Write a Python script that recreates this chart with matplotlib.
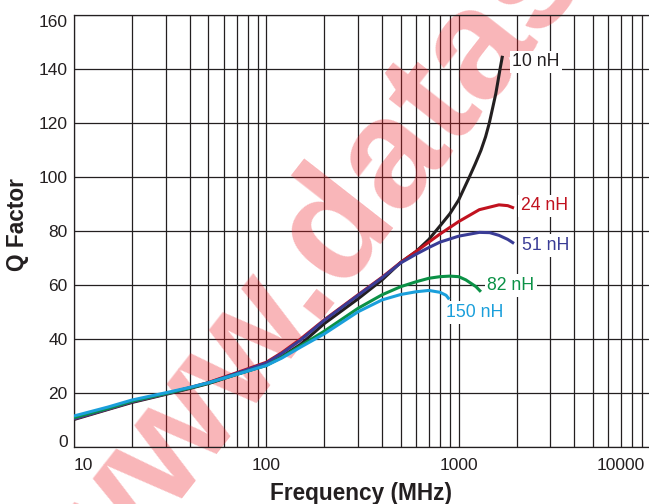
import numpy as np
import matplotlib
matplotlib.use("Agg")
import matplotlib.pyplot as plt
from matplotlib.ticker import LogLocator, NullFormatter, FixedLocator

plt.rcParams['font.family'] = ['Liberation Sans', 'DejaVu Sans']

# ---- data (frequency in MHz, Q factor) ----
f_10nh = [10, 15, 20, 30, 40, 50, 70, 100, 120, 150, 200, 300, 400, 500, 600, 700, 800, 900,
          1000, 1135, 1220, 1306, 1380, 1442, 1500, 1560, 1600, 1640, 1690]
q_10nh = [10.3, 14.0, 16.6, 19.6, 21.8, 23.6, 27.0, 30.5, 33.5, 38.0, 45.8, 55.0, 62.0, 68.5, 72.5, 77.0, 82.0, 86.5,
          91.6, 100.0, 105.0, 110.0, 115.0, 120.0, 125.5, 131.0, 135.5, 140.0, 145.0]

f_24nh = [10, 15, 20, 30, 40, 50, 70, 100, 120, 150, 200, 300, 400, 500, 600, 700, 800, 1000, 1280, 1620, 1800, 1940]
q_24nh = [10.6, 14.2, 16.9, 19.8, 22.1, 24.0, 27.6, 31.5, 35.0, 40.0, 47.2, 56.5, 63.0, 68.5, 72.5, 76.0, 79.0, 83.6,
          88.0, 89.8, 89.5, 88.6]

f_51nh = [10, 15, 20, 30, 40, 50, 70, 100, 120, 150, 200, 300, 400, 500, 600, 700, 800, 1000, 1280, 1450, 1620, 1800, 1940]
q_51nh = [10.6, 14.2, 16.9, 19.8, 22.0, 23.9, 27.4, 31.2, 34.7, 39.6, 47.0, 56.3, 62.8, 68.3, 71.5, 74.0, 76.0, 78.2,
          79.6, 79.5, 78.5, 77.0, 75.5]

f_82nh = [10, 15, 20, 30, 40, 50, 70, 100, 120, 150, 200, 300, 400, 500, 600, 700, 800, 900, 1000, 1090, 1230, 1305]
q_82nh = [11.0, 14.4, 17.1, 19.9, 22.0, 23.8, 27.0, 30.3, 33.3, 37.5, 43.0, 51.5, 56.5, 59.5, 61.3, 62.6, 63.2, 63.4,
          63.2, 62.0, 59.5, 57.6]

f_150nh = [10, 15, 20, 30, 40, 50, 70, 100, 120, 150, 200, 300, 400, 500, 600, 700, 800, 860, 894]
q_150nh = [11.6, 14.9, 17.5, 20.2, 22.2, 23.9, 27.0, 30.3, 33.0, 37.0, 42.0, 50.2, 54.6, 56.6, 57.6, 58.1, 57.4, 56.3, 54.8]

# name, x, y, colour, label position (MHz, Q)
series = [
    ('10 nH', f_10nh, q_10nh, '#231f20', 1897, 142.8),
    ('24 nH', f_24nh, q_24nh, '#c1121f', 2105, 89.4),
    ('51 nH', f_51nh, q_51nh, '#3a3c96', 2138, 74.7),
    ('82 nH', f_82nh, q_82nh, '#0b9146', 1407, 59.9),
    ('150 nH', f_150nh, q_150nh, '#1a9fdb', 859, 49.9),
]

x_ticks = [10, 100, 1000, 10000]
y_ticks = [0, 20, 40, 60, 80, 100, 120, 140, 160]

txt = '#231f20'

fig = plt.figure(figsize=(6.49, 5.04), dpi=100)
ax = fig.add_axes([74 / 649, 56.7 / 504, 577 / 649, 432 / 504])

ax.set_xscale('log')
ax.set_xlim(10, 10000)
ax.set_ylim(0, 160)

ax.xaxis.set_major_locator(FixedLocator(x_ticks))
ax.xaxis.set_minor_locator(LogLocator(base=10, subs=np.arange(2, 10)))
ax.xaxis.set_minor_formatter(NullFormatter())
ax.set_xticks(x_ticks)
# last label sits right at the cropped edge, drawn separately below
ax.set_xticklabels([str(v) for v in x_ticks[:-1]] + [''])
ax.set_yticks(y_ticks)
ax.set_yticklabels([str(v) for v in y_ticks])
ax.tick_params(which='both', length=0, labelsize=12.5, labelcolor=txt)
ax.tick_params(axis='x', pad=8)
ax.tick_params(axis='y', pad=4.5)

# edge labels are pulled inside like in the original
xl = ax.get_xticklabels()
xl[0].set_ha('left')
yl = ax.get_yticklabels()
yl[0].set_va('baseline')
yl[-1].set_va('top')

ax.annotate(str(x_ticks[-1]), xy=(x_ticks[-1], 0), xycoords=('data', 'axes fraction'),
            xytext=(-4.5, -8), textcoords='offset points', ha='right', va='top',
            fontsize=12.5, color=txt, annotation_clip=False)

ax.grid(which='both', color=txt, linewidth=0.9)
ax.set_axisbelow(True)
ax.spines['right'].set_visible(False)
for s in ['left', 'bottom', 'top']:
    ax.spines[s].set_color(txt)
    ax.spines[s].set_linewidth(0.9)

# watermark of the scanned datasheet
ax.text(578 / 649, (504 + 73.6) / 504, 'www.datasheet4u.com', transform=fig.transFigure,
        rotation=52, rotation_mode='anchor', ha='center', va='center',
        fontsize=112, fontweight='bold', color='#ed1c24', alpha=0.32,
        zorder=1.5, clip_on=False)

for name, f, q, c, lx, ly in series:
    ax.plot(f, q, color=c, linewidth=2.2, solid_capstyle='butt', solid_joinstyle='round', zorder=3)
    ax.text(lx, ly, name, color=c, fontsize=12.7, ha='left', va='center', zorder=4,
            bbox=dict(boxstyle='square,pad=0.15', facecolor='white', edgecolor='none'))

fig.text(0.557, 0.008, 'Frequency (MHz)', ha='center', va='baseline',
         fontsize=16.3, fontweight='bold', color=txt)
fig.text(17.3 / 649, 0.5536, 'Q Factor', ha='center', va='center', rotation=90,
         fontsize=16.3, fontweight='bold', color=txt)

fig.savefig('out.png', dpi=100)
